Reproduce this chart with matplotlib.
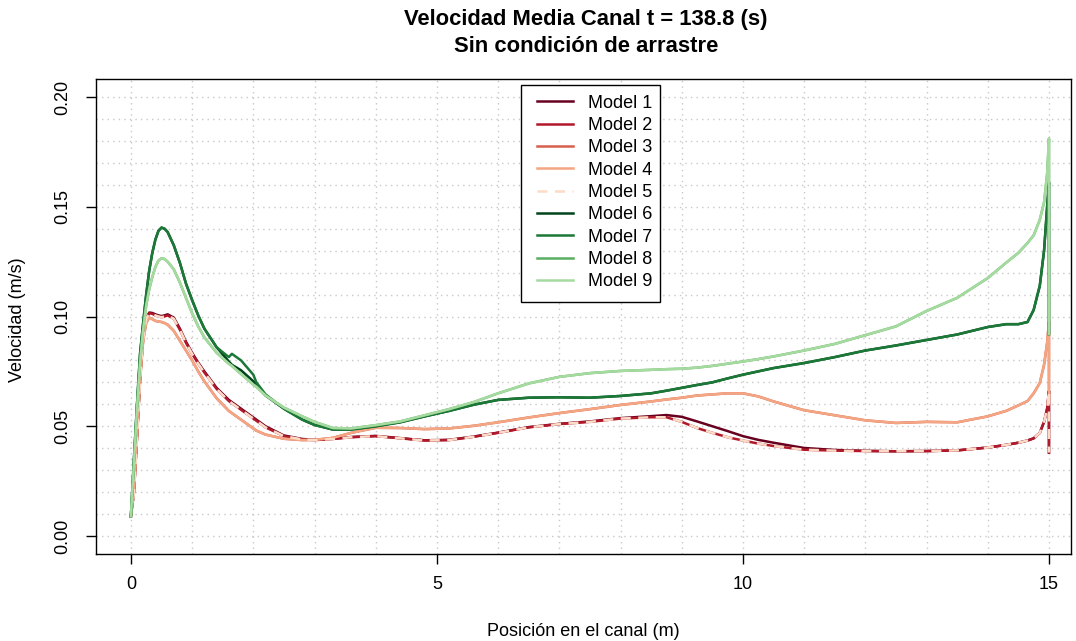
import numpy as np
import matplotlib
matplotlib.use("Agg")
import matplotlib.pyplot as plt
from matplotlib.patches import Rectangle

plt.rcParams['font.family'] = ['Liberation Sans', 'DejaVu Sans']

# Position along the channel (m)
x = [0, 0.05, 0.1, 0.15, 0.2, 0.25, 0.3, 0.35, 0.4, 0.45,
     0.5, 0.55, 0.6, 0.7, 0.8, 0.9, 1.0, 1.1, 1.2, 1.4,
     1.6, 1.65, 1.8, 2.0, 2.05, 2.2, 2.5, 2.8, 3.0, 3.3,
     3.6, 4.0, 4.4, 4.8, 5.2, 5.6, 6.0, 6.5, 7.0, 7.5,
     8.0, 8.5, 8.75, 9.0, 9.25, 9.5, 9.75, 10.0, 10.25, 10.5,
     11.0, 11.5, 12.0, 12.5, 13.0, 13.5, 14.0, 14.3, 14.5, 14.65,
     14.75, 14.85, 14.92, 14.97, 15.0, 15.0]

# Mean velocity (m/s) per model
model1 = [0.009, 0.020, 0.045, 0.072, 0.090, 0.099, 0.1018, 0.1016, 0.1010, 0.1005,
          0.1002, 0.1005, 0.1010, 0.0995, 0.0945, 0.0885, 0.0835, 0.0790, 0.0750, 0.0675,
          0.0620, 0.0610, 0.0580, 0.0540, 0.0530, 0.0500, 0.0458, 0.0442, 0.0438, 0.0443,
          0.0451, 0.0456, 0.0446, 0.0436, 0.0438, 0.0453, 0.0471, 0.0496, 0.0511, 0.0522,
          0.0537, 0.0546, 0.0551, 0.0543, 0.0522, 0.0500, 0.0478, 0.0455, 0.0438, 0.0425,
          0.0401, 0.0392, 0.0388, 0.0386, 0.0387, 0.0390, 0.0403, 0.0415, 0.0425, 0.0435,
          0.0445, 0.0470, 0.0520, 0.0580, 0.0660, 0.0380]
model2 = [0.009, 0.020, 0.045, 0.072, 0.090, 0.099, 0.1015, 0.1012, 0.1005, 0.1000,
          0.0997, 0.1000, 0.1005, 0.0990, 0.0940, 0.0880, 0.0830, 0.0785, 0.0745, 0.0670,
          0.0615, 0.0605, 0.0575, 0.0535, 0.0525, 0.0495, 0.0455, 0.0440, 0.0437, 0.0442,
          0.0450, 0.0455, 0.0445, 0.0435, 0.0437, 0.0452, 0.0470, 0.0495, 0.0510, 0.0520,
          0.0535, 0.0541, 0.0541, 0.0520, 0.0492, 0.0470, 0.0450, 0.0435, 0.0421, 0.0410,
          0.0393, 0.0389, 0.0387, 0.0386, 0.0387, 0.0390, 0.0403, 0.0415, 0.0425, 0.0435,
          0.0445, 0.0470, 0.0520, 0.0580, 0.0660, 0.0380]
model5 = model2
model4 = [0.009, 0.020, 0.045, 0.071, 0.089, 0.097, 0.0995, 0.0988, 0.0980, 0.0977,
          0.0975, 0.0970, 0.0963, 0.0935, 0.0890, 0.0845, 0.0800, 0.0750, 0.0705, 0.0628,
          0.0570, 0.0560, 0.0530, 0.0490, 0.0480, 0.0462, 0.0443, 0.0437, 0.0438, 0.0447,
          0.0470, 0.0493, 0.0492, 0.0487, 0.0490, 0.0502, 0.0518, 0.0540, 0.0560, 0.0578,
          0.0597, 0.0613, 0.0622, 0.0630, 0.0640, 0.0645, 0.0650, 0.0650, 0.0636, 0.0613,
          0.0573, 0.0550, 0.0527, 0.0515, 0.0520, 0.0518, 0.0545, 0.0570, 0.0595, 0.0615,
          0.0650, 0.0697, 0.0780, 0.0880, 0.0975, 0.0600]
model3 = model4
model6 = [0.009, 0.035, 0.060, 0.083, 0.097, 0.110, 0.121, 0.129, 0.135, 0.139,
          0.1405, 0.1400, 0.1385, 0.1325, 0.1245, 0.1150, 0.1075, 0.1005, 0.0945, 0.0860,
          0.0795, 0.0780, 0.0755, 0.0705, 0.0690, 0.0640, 0.0580, 0.0530, 0.0506, 0.0485,
          0.0485, 0.0500, 0.0518, 0.0545, 0.0570, 0.0598, 0.0620, 0.0630, 0.0632, 0.0630,
          0.0638, 0.0650, 0.0662, 0.0675, 0.0688, 0.0700, 0.0718, 0.0735, 0.0750, 0.0765,
          0.0788, 0.0815, 0.0845, 0.0868, 0.0893, 0.0918, 0.0952, 0.0965, 0.0965, 0.0975,
          0.1030, 0.1140, 0.1300, 0.1500, 0.1610, 0.0920]
model7 = [0.009, 0.035, 0.060, 0.083, 0.097, 0.110, 0.121, 0.129, 0.135, 0.139,
          0.1405, 0.1400, 0.1385, 0.1325, 0.1245, 0.1150, 0.1075, 0.1005, 0.0945, 0.0860,
          0.0815, 0.0830, 0.0800, 0.0735, 0.0700, 0.0645, 0.0580, 0.0530, 0.0506, 0.0485,
          0.0485, 0.0500, 0.0518, 0.0545, 0.0570, 0.0598, 0.0620, 0.0630, 0.0632, 0.0630,
          0.0638, 0.0650, 0.0662, 0.0675, 0.0688, 0.0700, 0.0718, 0.0735, 0.0750, 0.0765,
          0.0788, 0.0815, 0.0845, 0.0868, 0.0893, 0.0918, 0.0952, 0.0965, 0.0965, 0.0975,
          0.1030, 0.1140, 0.1300, 0.1500, 0.1610, 0.0920]
model9 = [0.009, 0.033, 0.058, 0.079, 0.094, 0.105, 0.1125, 0.118, 0.1225, 0.1255,
          0.1265, 0.1262, 0.1250, 0.1215, 0.1155, 0.1085, 0.1015, 0.0955, 0.0905, 0.0835,
          0.0785, 0.0775, 0.0738, 0.0690, 0.0680, 0.0640, 0.0585, 0.0545, 0.0520, 0.0492,
          0.0490, 0.0505, 0.0522, 0.0550, 0.0578, 0.0610, 0.0650, 0.0695, 0.0725, 0.0742,
          0.0752, 0.0757, 0.0760, 0.0762, 0.0767, 0.0775, 0.0785, 0.0795, 0.0806, 0.0818,
          0.0845, 0.0875, 0.0915, 0.0955, 0.1025, 0.1085, 0.1175, 0.1245, 0.1290, 0.1335,
          0.1370, 0.1440, 0.1520, 0.1650, 0.1810, 0.0920]
model8 = model9

labels = ["Model 1", "Model 2", "Model 3", "Model 4", "Model 5",
          "Model 6", "Model 7", "Model 8", "Model 9"]
series = [model1, model2, model3, model4, model5, model6, model7, model8, model9]
colors = ["#67001F", "#B2182B", "#D6604D", "#F4A582", "#FDDBC7",
          "#00441B", "#1B7837", "#5AAE61", "#A6DBA0"]
styles = ["-", "-", "-", "-", "--", "-", "-", "-", "-"]

x_ticks = [0, 5, 10, 15]
y_ticks = [0.00, 0.05, 0.10, 0.15, 0.20]

W, H = 1076, 641
fig = plt.figure(figsize=(W / 100, H / 100), dpi=100)
ax = fig.add_axes([96 / W, 1 - 554 / H, 975 / W, 475 / H])

# dotted reference grid
for gx in range(0, 16):
    ax.axvline(gx, color="#C8C8C8", lw=1.0, linestyle=(0, (1, 3)), zorder=0)
for gy in np.arange(0, 0.2001, 0.01):
    ax.axhline(gy, color="#C8C8C8", lw=1.0, linestyle=(0, (1, 3)), zorder=0)

for ys, c, ls, lab in zip(series, colors, styles, labels):
    line, = ax.plot(x, ys, color=c, lw=1.8, linestyle=ls, label=lab,
                    solid_joinstyle="round")
    if ls == "--":
        line.set_dashes((4, 3))

ax.set_xlim(-0.57, 15.36)
ax.set_ylim(-0.0082, 0.2082)
ax.set_xticks(x_ticks)
ax.set_xticklabels([str(t) for t in x_ticks])
ax.set_yticks(y_ticks)
ax.set_yticklabels([f"{t:.2f}" for t in y_ticks], rotation=90, va="center")
ax.tick_params(axis="both", direction="out", length=7.5, width=1, labelsize=13,
               colors="black")
ax.tick_params(axis="x", pad=8)
ax.tick_params(axis="y", pad=10)
for s in ax.spines.values():
    s.set_linewidth(1.0)
    s.set_color("black")

fig.text(18 / W, 1 - 320 / H, "Velocidad (m/s)", rotation=90,
         ha="center", va="center", fontsize=13)
fig.text(583.5 / W, 1 - 632 / H, "Posición en el canal (m)",
         ha="center", va="center", fontsize=13)
fig.text(586 / W, 1 - 20 / H, "Velocidad Media Canal t = 138.8 (s)",
         ha="center", va="center", fontsize=15.8, fontweight="bold")
fig.text(586 / W, 1 - 47 / H, "Sin condición de arrastre",
         ha="center", va="center", fontsize=15.8, fontweight="bold")

# legend box
ax.add_patch(Rectangle(((521 - 96) / 975, (554 - 302) / 475), 139 / 975, 217 / 475,
                       transform=ax.transAxes, facecolor="white", edgecolor="black",
                       lw=1.0, zorder=4))
leg = ax.legend(loc="center left",
                bbox_to_anchor=((537 - 96) / 975, (554 - 192.5) / 475),
                fontsize=13, frameon=False, borderaxespad=0, borderpad=0,
                handlelength=2.0, handletextpad=0.83, labelspacing=0.295)
leg.set_zorder(5)

fig.savefig("out.png", dpi=100)
